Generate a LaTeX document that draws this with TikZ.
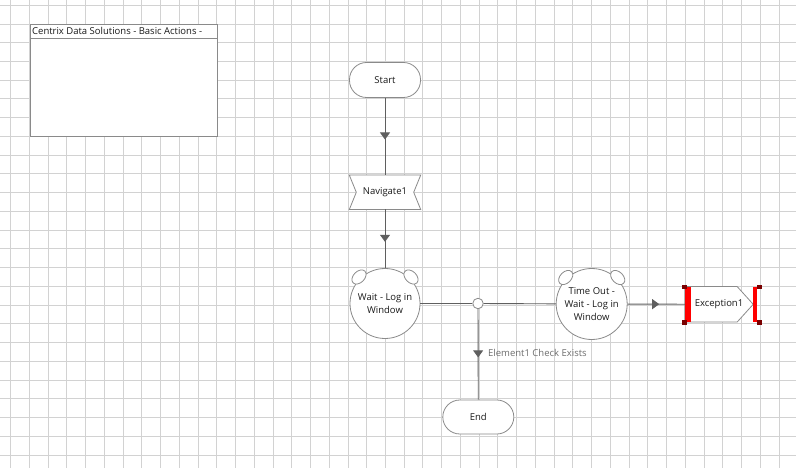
\documentclass[tikz,border=0pt]{standalone}
\usepackage{fontspec}
\setmainfont{Open Sans}
\usetikzlibrary{arrows.meta,decorations.markings}
\definecolor{gridc}{HTML}{D2D2D2}
\definecolor{edgec}{HTML}{8A8A8A}
\definecolor{linec}{HTML}{5F5F5F}
\definecolor{handle}{HTML}{7A0000}
\definecolor{txt}{HTML}{1A1A1A}
\definecolor{lbl}{HTML}{6E6E6E}
\tikzset{
  lbfont/.style={font=\fontsize{9.5bp}{13bp}\selectfont, text=txt},
  pill/.style={draw=edgec, fill=white, line width=0.8bp, rounded corners=17bp,
    minimum width=71bp, minimum height=35bp, inner sep=0pt, lbfont},
  waitc/.style={circle, draw=edgec, fill=white, line width=0.8bp,
    minimum size=70bp, inner sep=0pt, align=center, lbfont},
  ear/.style={draw=edgec, fill=white, line width=0.8bp},
  ghost/.style={rectangle, inner sep=0pt, lbfont},
  outline/.style={draw=edgec, fill=white, line width=0.8bp},
  flow/.style={draw=linec, line width=0.9bp},
  midarrow/.style={postaction={decorate}, decoration={markings,
    mark=at position 0.5 with {\arrow[xshift=3bp]{Triangle[width=10bp,length=7bp,color=linec,fill=linec]}}}},
  handlebar/.style={fill=red, draw=none},
  handlesq/.style={fill=handle, draw=none},
}
\begin{document}
\begin{tikzpicture}[x=1bp,y=-1bp]
\useasboundingbox (0,0) rectangle (796,468);
\fill[white] (0,0) rectangle (796,468);
% grid
\foreach \i in {0,...,41} \draw[gridc, line width=1bp] ({10.7+\i*18.74},0) -- ({10.7+\i*18.74},468);
\foreach \j in {0,...,24} \draw[gridc, line width=1bp] (0,{5.3+\j*18.74}) -- (796,{5.3+\j*18.74});

% title box
\draw[outline] (30,24.3) rectangle (217.3,136.7);
\draw[draw=edgec, line width=0.8bp] (30,38.3) -- (217.3,38.3);
\node[lbfont, anchor=base west, inner sep=0pt] (title) at (32,35) {Centrix Data Solutions - Basic Actions -};

% start
\node[pill] (start) at (385,80) {Start};

% navigate
\node[ghost, minimum width=71bp, minimum height=34bp] (nav) at (385,192.3) {};
\draw[outline] (nav.north west) -- (nav.north east) -- ([xshift=-7bp]nav.east) -- (nav.south east)
  -- (nav.south west) -- ([xshift=7bp]nav.west) -- cycle;
\node[lbfont] (navt) at (nav.center) {Navigate1};

% wait
\node[waitc] (wait) at (385,303.5) {Wait - Log in\\Window};
\draw[ear, rotate around={45:(359,277)}] (359,277) ellipse [x radius=8.3bp, y radius=5.6bp];
\draw[ear, rotate around={-45:(411,277)}] (411,277) ellipse [x radius=8.3bp, y radius=5.6bp];

% junction
\node[circle, draw=edgec, fill=white, line width=0.8bp, minimum size=10.5bp, inner sep=0pt] (junc) at (478,303.5) {};

% timeout
\node[waitc, minimum size=71bp] (tout) at (591.7,304) {Time Out -\\Wait - Log in\\Window};
\draw[ear, rotate around={45:(565.7,277.5)}] (565.7,277.5) ellipse [x radius=8.3bp, y radius=5.6bp];
\draw[ear, rotate around={-45:(617.7,277.5)}] (617.7,277.5) ellipse [x radius=8.3bp, y radius=5.6bp];

% exception
\node[ghost, minimum width=68bp, minimum height=35bp] (exc) at (719,304.3) {};
\draw[outline] (exc.north west) -- ([xshift=-16bp]exc.north east) -- (exc.east)
  -- ([xshift=-16bp]exc.south east) -- (exc.south west) -- cycle;
\node[lbfont] (exct) at (exc.center) {Exception1};
\fill[handlebar] (685,287) rectangle (690.7,321.7);
\fill[handlebar] (752.7,287) rectangle (757.3,321.7);
\fill[handlesq] (682.3,284.8) rectangle (686.7,289.2);
\fill[handlesq] (682.3,320.3) rectangle (686.7,324.7);
\fill[handlesq] (757.3,284.8) rectangle (761.7,289.2);
\fill[handlesq] (757.3,320.3) rectangle (761.7,324.7);

% end
\node[pill, minimum height=34bp] (end) at (478.3,417) {End};

% connectors
\draw[flow, midarrow] (start) -- (nav);
\draw[flow, midarrow] (nav) -- (wait);
\draw[flow] (wait) -- (junc);
\draw[flow] (junc) -- (tout);
\draw[flow, midarrow] (tout) -- (exc);
\draw[flow, midarrow] (junc) -- (end);
\node[font=\fontsize{9.5bp}{11bp}\selectfont, text=lbl, anchor=west, inner sep=0pt] (elab) at (488,353) {Element1 Check Exists};
\end{tikzpicture}
\end{document}
